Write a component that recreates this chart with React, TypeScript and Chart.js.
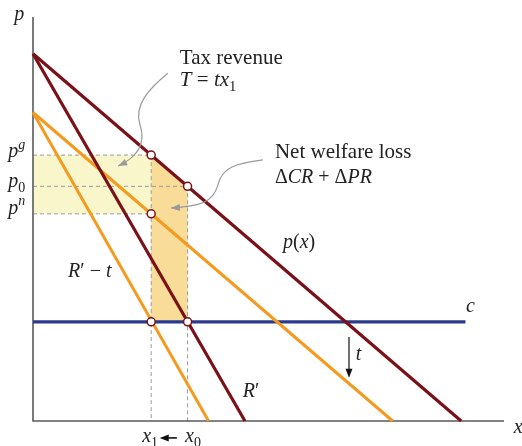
import { useEffect, useRef } from "react";
import { Chart, registerables } from "chart.js";

Chart.register(...registerables);

// Axis extent (both axes share the same value range)
const axisMax = 1.1;

// Demand p(x), marginal revenue R', and both shifted down by the unit tax t
const demand = [{ x: 0, y: 1 }, { x: 1, y: 0 }];
const marginalRevenue = [{ x: 0, y: 1 }, { x: 0.495, y: 0 }];
const demandLessTax = [{ x: 0, y: 0.84 }, { x: 0.84, y: 0 }];
const marginalRevenueLessTax = [{ x: 0, y: 0.84 }, { x: 0.41, y: 0 }];

// Marginal cost level c and how far its line runs
const costLevel = 0.27;
const costEnd = 1.01;

// Quantities before / after the tax, and the resulting prices
const x0 = 0.361;
const x1 = 0.276;
const pGross = 0.724; // p^g
const p0 = 0.639;
const pNet = 0.564; // p^n

const RED = "#7a1018";
const ORANGE = "#f49a1f";
const NAVY = "#2c3a8c";
const GUIDE = "#9b9b9b";
const FONT = '"Liberation Serif", "Times New Roman", serif';

type Seg = { t: string; i?: boolean; sub?: boolean; sup?: boolean };
type Label = { x: number; y: number; size: number; parts: Seg[] };

// Text annotations, placed in value coordinates (baseline-left anchored)
const labels: Label[] = [
  { x: 0.343, y: 0.972, size: 21, parts: [{ t: "Tax revenue" }] },
  { x: 0.343, y: 0.912, size: 21, parts: [{ t: "T", i: true }, { t: " = " }, { t: "tx", i: true }, { t: "1", sub: true }] },
  { x: 0.565, y: 0.716, size: 21, parts: [{ t: "Net welfare loss" }] },
  { x: 0.565, y: 0.648, size: 20, parts: [{ t: "Δ" }, { t: "CR", i: true }, { t: " + " }, { t: "Δ" }, { t: "PR", i: true }] },
  { x: 0.584, y: 0.471, size: 20, parts: [{ t: "p", i: true }, { t: "(" }, { t: "x", i: true }, { t: ")" }] },
  { x: 0.082, y: 0.392, size: 20, parts: [{ t: "R", i: true }, { t: "′" }, { t: " − " }, { t: "t", i: true }] },
  { x: 0.49, y: 0.065, size: 20, parts: [{ t: "R", i: true }, { t: "′" }] },
  { x: 1.011, y: 0.297, size: 20, parts: [{ t: "c", i: true }] },
  { x: 0.754, y: 0.166, size: 20, parts: [{ t: "t", i: true }] },
  { x: 1.123, y: -0.033, size: 20, parts: [{ t: "x", i: true }] },
  { x: -0.044, y: 1.092, size: 20, parts: [{ t: "p", i: true }] },
  { x: 0.255, y: -0.057, size: 20, parts: [{ t: "x", i: true }, { t: "1", sub: true }] },
  { x: 0.355, y: -0.057, size: 20, parts: [{ t: "x", i: true }, { t: "0", sub: true }] },
  { x: -0.058, y: 0.719, size: 20, parts: [{ t: "p", i: true }, { t: "g", i: true, sup: true }] },
  { x: -0.058, y: 0.637, size: 20, parts: [{ t: "p", i: true }, { t: "0", sub: true }] },
  { x: -0.058, y: 0.564, size: 20, parts: [{ t: "p", i: true }, { t: "n", i: true, sup: true }] },
];

// Curved pointer arrows: start point followed by cubic bezier triples
const pointerTax = [
  [0.315, 0.947],
  [0.273, 0.907], [0.234, 0.86], [0.25, 0.806],
  [0.266, 0.751], [0.238, 0.716], [0.199, 0.694],
];
const pointerLoss = [
  [0.537, 0.711],
  [0.472, 0.702], [0.441, 0.689], [0.432, 0.643],
  [0.42, 0.594], [0.39, 0.585], [0.322, 0.58],
];

// Straight arrows: the tax shift t and the quantity move x0 -> x1
const straightArrows = [
  { from: [0.738, 0.229], to: [0.738, 0.118], color: "#111", width: 1.2 },
  { from: [0.336, -0.046], to: [0.296, -0.046], color: "#111", width: 1.6 },
];

function drawRich(ctx: CanvasRenderingContext2D, x: number, y: number, parts: Seg[], size: number) {
  let cx = x;
  for (const p of parts) {
    const small = p.sub || p.sup;
    const fs = small ? size * 0.7 : size;
    ctx.font = `${p.i ? "italic " : ""}${fs}px ${FONT}`;
    const dy = p.sub ? size * 0.25 : p.sup ? -size * 0.42 : 0;
    ctx.fillText(p.t, cx, y + dy);
    cx += ctx.measureText(p.t).width;
  }
}

function arrowHead(ctx: CanvasRenderingContext2D, tipX: number, tipY: number, fromX: number, fromY: number, len: number, half: number) {
  const a = Math.atan2(tipY - fromY, tipX - fromX);
  ctx.beginPath();
  ctx.moveTo(tipX, tipY);
  ctx.lineTo(tipX - len * Math.cos(a) + half * Math.sin(a), tipY - len * Math.sin(a) - half * Math.cos(a));
  ctx.lineTo(tipX - len * Math.cos(a) - half * Math.sin(a), tipY - len * Math.sin(a) + half * Math.cos(a));
  ctx.closePath();
  ctx.fill();
}

const annotations = {
  id: "annotations",
  afterDatasetsDraw(chart: Chart) {
    const ctx = chart.ctx;
    const sx = chart.scales.x;
    const sy = chart.scales.y;
    const X = (v: number) => sx.getPixelForValue(v);
    const Y = (v: number) => sy.getPixelForValue(v);
    ctx.save();

    // curved grey pointers
    for (const path of [pointerTax, pointerLoss]) {
      ctx.strokeStyle = "#9a9a9a";
      ctx.fillStyle = "#9a9a9a";
      ctx.lineWidth = 1.2;
      ctx.beginPath();
      ctx.moveTo(X(path[0][0]), Y(path[0][1]));
      for (let k = 1; k + 2 < path.length + 0; k += 3) {
        ctx.bezierCurveTo(
          X(path[k][0]), Y(path[k][1]),
          X(path[k + 1][0]), Y(path[k + 1][1]),
          X(path[k + 2][0]), Y(path[k + 2][1])
        );
      }
      ctx.stroke();
      const n = path.length;
      arrowHead(ctx, X(path[n - 1][0]), Y(path[n - 1][1]), X(path[n - 2][0]), Y(path[n - 2][1]), 9, 3.5);
    }

    // straight arrows
    for (const a of straightArrows) {
      ctx.strokeStyle = a.color;
      ctx.fillStyle = a.color;
      ctx.lineWidth = a.width;
      const fx = X(a.from[0]), fy = Y(a.from[1]);
      const tx = X(a.to[0]), ty = Y(a.to[1]);
      const ang = Math.atan2(ty - fy, tx - fx);
      ctx.beginPath();
      ctx.moveTo(fx, fy);
      ctx.lineTo(tx - 6 * Math.cos(ang), ty - 6 * Math.sin(ang));
      ctx.stroke();
      arrowHead(ctx, tx, ty, fx, fy, 9, 3.5);
    }

    // text
    ctx.fillStyle = "#222";
    ctx.textBaseline = "alphabetic";
    ctx.textAlign = "left";
    for (const l of labels) drawRich(ctx, X(l.x), Y(l.y), l.parts, l.size);
    ctx.restore();
  },
};

const line = (data: { x: number; y: number }[], color: string, width: number, order: number, dash: number[] = []) => ({
  data,
  showLine: true,
  borderColor: color,
  borderWidth: width,
  borderDash: dash,
  pointRadius: 0,
  fill: false,
  clip: false as const,
  order,
});

export default function App() {
  const ref = useRef<HTMLCanvasElement | null>(null);

  useEffect(() => {
    if (!ref.current) return;

    const taxRevenue = [
      { x: 0, y: pGross }, { x: x1, y: pGross }, { x: x1, y: pNet }, { x: 0, y: pNet },
    ];
    const welfareLoss = [
      { x: x1, y: pGross }, { x: x0, y: p0 }, { x: x0, y: costLevel }, { x: x1, y: costLevel },
    ];
    const equilibria = [
      { x: x1, y: pGross }, { x: x0, y: p0 }, { x: x1, y: pNet },
      { x: x1, y: costLevel }, { x: x0, y: costLevel },
    ];

    const chart = new Chart(ref.current, {
      type: "scatter",
      data: {
        datasets: [
          { ...line(taxRevenue, "rgba(0,0,0,0)", 0, 30), fill: "shape", backgroundColor: "#f9f6cc" },
          { ...line(welfareLoss, "rgba(0,0,0,0)", 0, 30), fill: "shape", backgroundColor: "#f8dc98" },
          line([{ x: 0, y: pGross }, { x: x1, y: pGross }], GUIDE, 1, 20, [4, 3]),
          line([{ x: 0, y: p0 }, { x: x0, y: p0 }], GUIDE, 1, 20, [4, 3]),
          line([{ x: 0, y: pNet }, { x: x1, y: pNet }], GUIDE, 1, 20, [4, 3]),
          line([{ x: x1, y: pGross }, { x: x1, y: 0 }], GUIDE, 1, 20, [4, 3]),
          line([{ x: x0, y: p0 }, { x: x0, y: 0 }], GUIDE, 1, 20, [4, 3]),
          line([{ x: 0, y: axisMax }, { x: 0, y: 0 }, { x: axisMax, y: 0 }], "#5a5a5a", 1.6, 15),
          line([{ x: 0, y: costLevel }, { x: costEnd, y: costLevel }], NAVY, 3.2, 12),
          line(demandLessTax, ORANGE, 3, 10),
          line(marginalRevenueLessTax, ORANGE, 3, 10),
          line(demand, RED, 3.2, 8),
          line(marginalRevenue, RED, 3.2, 8),
          {
            data: equilibria,
            showLine: false,
            pointRadius: 4,
            pointBorderWidth: 1.5,
            pointBackgroundColor: "#ffffff",
            pointBorderColor: RED,
            clip: false as const,
            order: 0,
          },
        ],
      },
      options: {
        responsive: false,
        devicePixelRatio: 1,
        animation: false,
        events: [],
        layout: { padding: { left: 33, right: 18, top: 17, bottom: 25 } },
        plugins: { legend: { display: false }, tooltip: { enabled: false } },
        scales: {
          x: { type: "linear", min: 0, max: axisMax, display: false },
          y: { type: "linear", min: 0, max: axisMax, display: false },
        },
      },
      plugins: [annotations],
    });

    return () => chart.destroy();
  }, []);

  return (
    <div style={{ position: "absolute", left: 0, top: 0, width: 522, height: 446, background: "#fff" }}>
      <canvas ref={ref} width={522} height={446} />
    </div>
  );
}
